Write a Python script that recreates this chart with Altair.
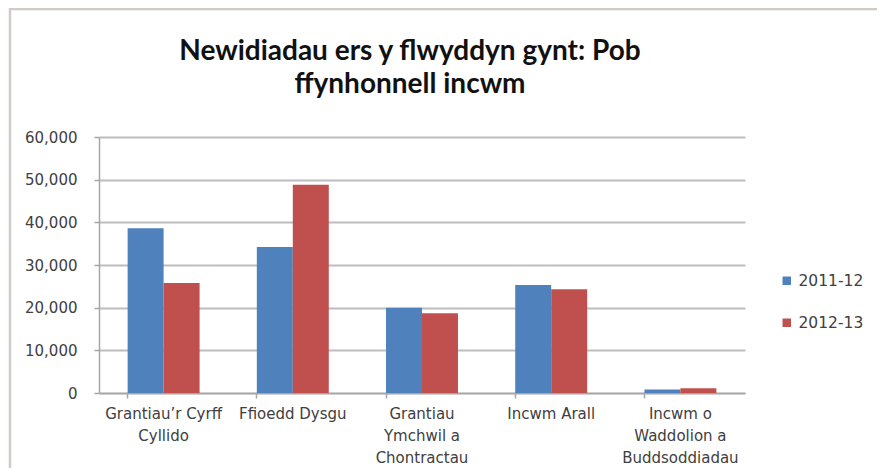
import altair as alt
import pandas as pd

categories = [
    "Grantiau’r Cyrff|Cyllido",
    "Ffioedd Dysgu",
    "Grantiau|Ymchwil a|Chontractau",
    "Incwm Arall",
    "Incwm o|Waddolion a|Buddsoddiadau",
]
series = ["2011-12", "2012-13"]
values_2011_12 = [38600, 34200, 20000, 25300, 800]
values_2012_13 = [25800, 48800, 18700, 24300, 1100]
y_ticks = [0, 10000, 20000, 30000, 40000, 50000, 60000]
colors = ["#4F81BD", "#C0504D"]

rows = []
for c, v in zip(categories, values_2011_12):
    rows.append({"cat": c, "series": series[0], "value": v})
for c, v in zip(categories, values_2012_13):
    rows.append({"cat": c, "series": series[1], "value": v})
df = pd.DataFrame(rows)

FONT = "DejaVu Sans"
TFONT = "Lato"
W, H = 646, 256

bars = alt.Chart(df).mark_bar(stroke=None).encode(
    x=alt.X("cat:N", sort=categories, title=None,
            scale=alt.Scale(paddingInner=0.443, paddingOuter=0.2215),
            axis=alt.Axis(labelExpr="split(datum.label, '|')", labelAngle=0,
                          bandPosition=0, ticks=True, tickSize=5,
                          labelPadding=8, labelLineHeight=22,
                          labelBaseline="top")),
    xOffset=alt.XOffset("series:N", sort=series, scale=alt.Scale(paddingInner=0, paddingOuter=0)),
    y=alt.Y("value:Q", title=None,
            scale=alt.Scale(domain=[0, 60000], nice=False),
            axis=alt.Axis(values=y_ticks, labelExpr="format(datum.value, ',.0f')",
                          tickSize=5, labelPadding=17, grid=True)),
    color=alt.Color("series:N", sort=series, title=None,
                    scale=alt.Scale(domain=series, range=colors),
                    legend=alt.Legend(orient="none", legendX=680, legendY=136,
                                      symbolType="square", symbolSize=72,
                                      symbolStrokeWidth=0, labelOffset=4,
                                      rowPadding=25, padding=0)),
)

border = alt.Chart(pd.DataFrame({"a": [0]})).mark_rect(
    fill=None, stroke="#d2cac6", strokeWidth=2.5
).encode(
    x=alt.value(-89), x2=alt.value(W + 200),
    y=alt.value(-128), y2=alt.value(H + 200),
)

chart = alt.layer(border, bars).properties(
    width=W, height=H,
    title=alt.Title(
        ["Newidiadau ers y flwyddyn gynt: Pob", "ffynhonnell incwm"],
        font=TFONT, fontSize=28, fontWeight="bold", color="#111111",
        anchor="middle", frame="group", dx=-12, offset=-91, lineHeight=33,
    ),
    autosize=alt.AutoSizeParams(type="none"),
    padding={"left": 91, "top": 129, "right": 132, "bottom": 75},
    background="white",
).configure_view(stroke=None).configure_axis(
    labelFont=FONT, labelFontSize=15, labelColor="#404040",
    domainColor="#a6a6a6", tickColor="#a6a6a6", domainWidth=1.5, tickWidth=1.5,
    gridColor="#bdbdbd", gridWidth=1.8,
).configure_legend(
    labelFont=FONT, labelFontSize=15.5, labelColor="#404040",
)

chart.save("out.html", embed_options={"renderer": "svg", "actions": False})
